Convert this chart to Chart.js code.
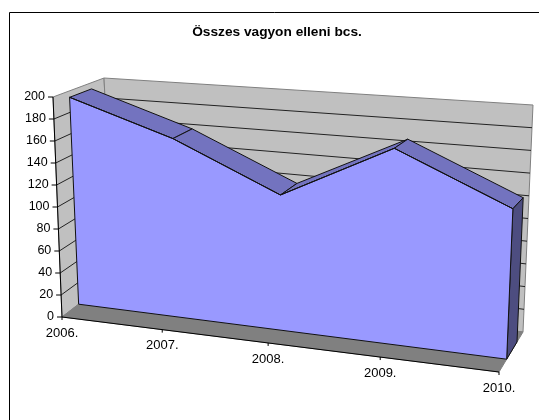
<!DOCTYPE html>
<html>
<head>
<meta charset="utf-8">
<title>Összes vagyon elleni bcs.</title>
<script src="https://cdn.jsdelivr.net/npm/chart.js@4"></script>
<style>
    body { margin: 0; background: #fff; }
    canvas { display: block; }
</style>
</head>
<body>
<canvas id="myChart" width="539" height="420"></canvas>
<script>
let titleText = 'Összes vagyon elleni bcs.';
let labels = ['2006.', '2007.', '2008.', '2009.', '2010.'];
let values = [194, 162, 119, 167, 124];

let faceColor = '#9999FF';
let topColor = '#7373BF';
let capColor = '#4D4D80';
let wallColor = '#C0C0C0';
let floorColor = '#808080';

// corners of the 3d box on screen: f = front, b = back, l/r, b/t
let box = {
    flb: [62, 317], frb: [499, 372], flt: [53, 97], frt: [509, 122],
    blb: [114, 277], brb: [523, 332], blt: [104, 78], brt: [533, 105]
};
let zFront = 0.32;
let zBack = 0.75;

function mix(a, b, t) {
    return [a[0] + (b[0] - a[0]) * t, a[1] + (b[1] - a[1]) * t];
}

// t along the categories, z into the depth, v up the value axis (all 0..1)
function project(t, z, v) {
    let k = t / (t + (1 - t) * 1.12);
    let front = mix(mix(box.flb, box.frb, k), mix(box.flt, box.frt, k), v);
    let back = mix(mix(box.blb, box.brb, k), mix(box.blt, box.brt, k), v);
    return mix(front, back, z);
}

function xFrac(chart, i) {
    let x = chart.scales.x;
    return (x.getPixelForValue(i) - x.left) / x.width;
}

function yFrac(chart, value) {
    let y = chart.scales.y;
    return (y.bottom - y.getPixelForValue(value)) / y.height;
}

function poly(ctx, pts, fill, stroke) {
    ctx.beginPath();
    pts.forEach(function (p, i) {
        if (i === 0) ctx.moveTo(p[0], p[1]);
        else ctx.lineTo(p[0], p[1]);
    });
    ctx.closePath();
    if (fill) {
        ctx.fillStyle = fill;
        ctx.fill();
    }
    if (stroke) {
        ctx.strokeStyle = stroke;
        ctx.stroke();
    }
}

function seg(ctx, a, b, color) {
    ctx.beginPath();
    ctx.moveTo(a[0], a[1]);
    ctx.lineTo(b[0], b[1]);
    ctx.strokeStyle = color;
    ctx.stroke();
}

let box3d = {
    id: 'box3d',
    // move the line's points from the flat scales onto the front face
    afterDatasetsUpdate: function (chart) {
        chart.getDatasetMeta(0).data.forEach(function (pt, i) {
            let p = project(xFrac(chart, i), zFront, yFrac(chart, values[i]));
            pt.x = p[0];
            pt.y = p[1];
        });
    },
    beforeDraw: function (chart) {
        let ctx = chart.ctx;
        ctx.save();
        ctx.lineWidth = 1;
        seg(ctx, [9.5, 420], [9.5, 12.5], '#000');
        seg(ctx, [9.5, 12.5], [539, 12.5], '#000');
        ctx.restore();

        // tick labels follow the slanted axes
        let yScale = chart.scales.y;
        yScale.getLabelItems(chart.chartArea).forEach(function (item, i) {
            let p = project(0, 0, yFrac(chart, yScale.ticks[i].value));
            item.textOffset = 0;
            item.options.translation = [p[0] - 8, p[1]];
            item.options.textAlign = 'right';
            item.options.textBaseline = 'middle';
        });
        let xScale = chart.scales.x;
        xScale.getLabelItems(chart.chartArea).forEach(function (item, i) {
            let p = project(xFrac(chart, i), 0, 0);
            item.textOffset = 0;
            item.options.translation = [p[0], p[1] + 16];
            item.options.textAlign = 'center';
            item.options.textBaseline = 'middle';
        });
    },
    beforeDatasetsDraw: function (chart) {
        let ctx = chart.ctx;
        let yScale = chart.scales.y;
        ctx.save();
        ctx.lineWidth = 1;
        ctx.lineJoin = 'round';

        // walls and floor
        poly(ctx, [project(0, 0, 0), project(0, 1, 0), project(0, 1, 1), project(0, 0, 1)], wallColor, floorColor);
        poly(ctx, [project(0, 1, 0), project(1, 1, 0), project(1, 1, 1), project(0, 1, 1)], wallColor, floorColor);
        poly(ctx, [project(0, 0, 0), project(1, 0, 0), project(1, 1, 0), project(0, 1, 0)], floorColor, floorColor);

        // gridlines
        yScale.ticks.forEach(function (tick) {
            let v = yFrac(chart, tick.value);
            if (v > 0 && v < 1) {
                seg(ctx, project(0, 0, v), project(0, 1, v), '#222');
                seg(ctx, project(0, 1, v), project(1, 1, v), '#222');
            }
        });

        // axis lines and tick marks
        seg(ctx, project(0, 0, 0), project(0, 0, 1), '#000');
        seg(ctx, project(0, 0, 0), project(1, 0, 0), '#000');
        yScale.ticks.forEach(function (tick) {
            let p = project(0, 0, yFrac(chart, tick.value));
            seg(ctx, [p[0] - 5, p[1]], p, '#000');
        });
        labels.forEach(function (label, i) {
            let p = project(xFrac(chart, i), 0, 0);
            seg(ctx, p, [p[0], p[1] + 3], '#000');
        });

        // top of the area, one strip per category step
        for (let i = 0; i < values.length - 1; i++) {
            let t0 = xFrac(chart, i);
            let t1 = xFrac(chart, i + 1);
            let v0 = yFrac(chart, values[i]);
            let v1 = yFrac(chart, values[i + 1]);
            poly(ctx, [project(t0, zFront, v0), project(t1, zFront, v1), project(t1, zBack, v1), project(t0, zBack, v0)], topColor, '#111');
        }

        // right end cap
        let last = values.length - 1;
        let tEnd = xFrac(chart, last);
        let vEnd = yFrac(chart, values[last]);
        poly(ctx, [project(tEnd, zFront, 0), project(tEnd, zBack, 0), project(tEnd, zBack, vEnd), project(tEnd, zFront, vEnd)], capColor, '#111');

        // front face
        let face = values.map(function (value, i) {
            return project(xFrac(chart, i), zFront, yFrac(chart, value));
        });
        face.push(project(tEnd, zFront, 0));
        face.push(project(xFrac(chart, 0), zFront, 0));
        poly(ctx, face, faceColor, '#111');
        ctx.restore();
    }
};

let myChart = document.getElementById('myChart').getContext('2d');

let chart = new Chart(myChart, {
    type: 'line',
    data: {
        labels: labels,
        datasets: [{
            data: values,
            borderColor: '#111',
            borderWidth: 1,
            pointRadius: 0,
            fill: false,
            tension: 0,
            clip: false
        }]
    },
    options: {
        responsive: false,
        animation: false,
        layout: { padding: { left: 15, top: 22 } },
        plugins: {
            legend: { display: false },
            tooltip: { enabled: false },
            title: {
                display: true,
                text: titleText,
                color: '#000',
                font: { family: 'Liberation Sans', size: 13.7, weight: 'bold' },
                padding: { top: 2, bottom: 10 }
            }
        },
        scales: {
            x: {
                offset: false,
                grid: { display: false },
                border: { display: false },
                ticks: { color: '#000', mirror: true, maxRotation: 0, autoSkip: false, font: { family: 'Liberation Sans', size: 13 } }
            },
            y: {
                min: 0,
                max: 200,
                grid: { display: false },
                border: { display: false },
                ticks: { color: '#000', mirror: true, stepSize: 20, font: { family: 'Liberation Sans', size: 12.5 } }
            }
        }
    },
    plugins: [box3d]
});
</script>
</body>
</html>
